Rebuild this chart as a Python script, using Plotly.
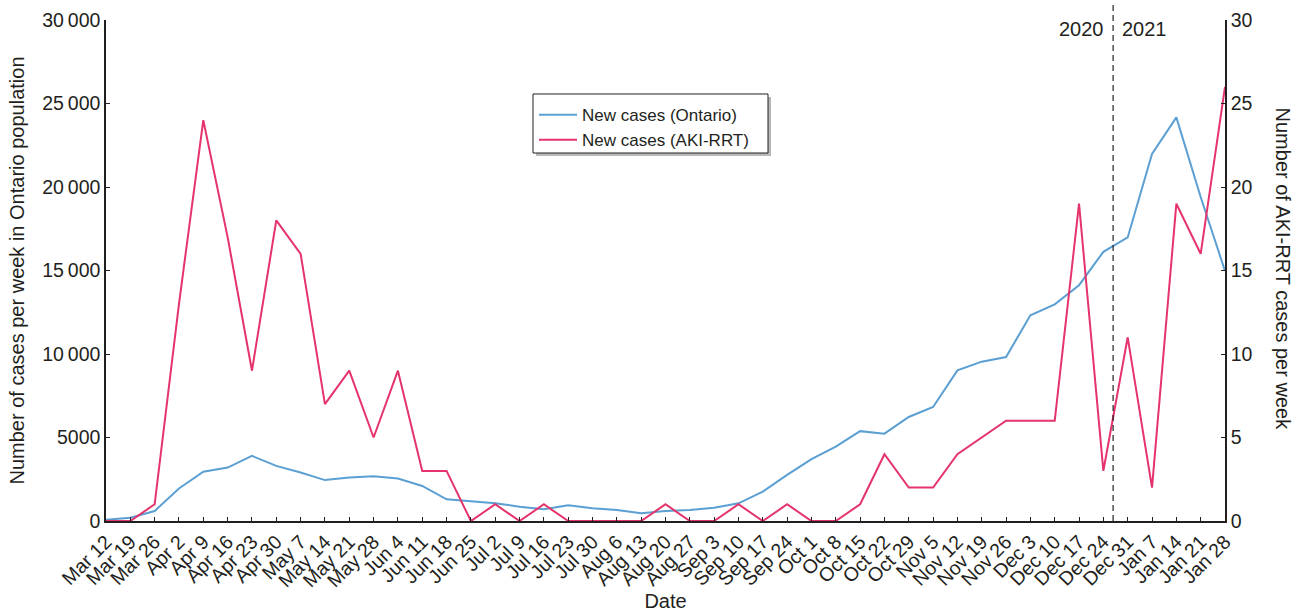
import plotly.graph_objects as go

# Week-starting dates (2020-03-12 .. 2021-01-28)
weeks = [
    "Mar 12", "Mar 19", "Mar 26", "Apr 2", "Apr 9", "Apr 16", "Apr 23", "Apr 30",
    "May 7", "May 14", "May 21", "May 28", "Jun 4", "Jun 11", "Jun 18", "Jun 25",
    "Jul 2", "Jul 9", "Jul 16", "Jul 23", "Jul 30", "Aug 6", "Aug 13", "Aug 20",
    "Aug 27", "Sep 3", "Sep 10", "Sep 17", "Sep 24", "Oct 1", "Oct 8", "Oct 15",
    "Oct 22", "Oct 29", "Nov 5", "Nov 12", "Nov 19", "Nov 26", "Dec 3", "Dec 10",
    "Dec 17", "Dec 24", "Dec 31", "Jan 7", "Jan 14", "Jan 21", "Jan 28",
]

# Weekly new COVID-19 cases in the Ontario population
ontario_cases = [
    80, 200, 600, 1950, 2950, 3200, 3900, 3300,
    2900, 2450, 2600, 2680, 2550, 2100, 1300, 1200,
    1060, 860, 700, 940, 760, 660, 460, 600,
    660, 800, 1060, 1760, 2760, 3700, 4460, 5380,
    5230, 6230, 6830, 9020, 9540, 9820, 12320, 12970,
    14120, 16120, 16980, 21980, 24170, 19400, 14980,
]

# Weekly new AKI-RRT cases
aki_rrt_cases = [
    0, 0, 1, 13, 24, 17, 9, 18,
    16, 7, 9, 5, 9, 3, 3, 0,
    1, 0, 1, 0, 0, 0, 0, 1,
    0, 0, 1, 0, 1, 0, 0, 1,
    4, 2, 2, 4, 5, 6, 6, 6,
    19, 3, 11, 2, 19, 16, 26,
]

left_ticks = [0, 5000, 10000, 15000, 20000, 25000, 30000]
left_tick_text = ["0", "5000", "10\u2009000", "15\u2009000", "20\u2009000", "25\u2009000", "30\u2009000"]
right_ticks = [0, 5, 10, 15, 20, 25, 30]

year_boundary = 41.4  # between Dec 24 and Dec 31 weeks
year_labels = ["2020", "2021"]

BLUE = "#5b9fd3"
PINK = "#e5336b"
INK = "#231f20"
FONT = "Liberation Sans, Arial, sans-serif"

x_idx = list(range(len(weeks)))

fig = go.Figure()
fig.add_trace(go.Scatter(
    x=x_idx, y=ontario_cases, mode="lines", name="New cases (Ontario)",
    line=dict(color=BLUE, width=2), yaxis="y",
))
fig.add_trace(go.Scatter(
    x=x_idx, y=aki_rrt_cases, mode="lines", name="New cases (AKI-RRT)",
    line=dict(color=PINK, width=2), yaxis="y2",
))

# Dashed divider between the two years
fig.add_shape(
    type="line", xref="x", yref="paper",
    x0=year_boundary, x1=year_boundary, y0=0, y1=1.034,
    line=dict(color=INK, width=1.2, dash="6px,4px"),
)
fig.add_annotation(
    x=year_boundary, y=0.982, xref="x", yref="paper", text=year_labels[0],
    showarrow=False, xanchor="right", yanchor="middle", xshift=-7,
    font=dict(size=20, color=INK, family=FONT),
)
fig.add_annotation(
    x=year_boundary, y=0.982, xref="x", yref="paper", text=year_labels[1],
    showarrow=False, xanchor="left", yanchor="middle", xshift=7,
    font=dict(size=20, color=INK, family=FONT),
)

# Right-hand axis title, reading top to bottom
fig.add_annotation(
    x=1.0518, y=0.502, xref="paper", yref="paper",
    text="Number of AKI-RRT cases per week", textangle=90,
    showarrow=False, xanchor="center", yanchor="middle",
    font=dict(size=20, color=INK, family=FONT),
)

# Legend frame with a soft drop shadow (legend itself is drawn on top)
box_x0, box_x1, box_y0, box_y1 = 0.3816, 0.5916, 0.7345, 0.8523
fig.add_shape(
    type="rect", xref="paper", yref="paper", layer="above",
    x0=box_x0 + 0.0027, x1=box_x1 + 0.0027, y0=box_y0 - 0.006, y1=box_y1 - 0.006,
    fillcolor="#b8b8b8", line=dict(width=0),
)
fig.add_shape(
    type="rect", xref="paper", yref="paper", layer="above",
    x0=box_x0, x1=box_x1, y0=box_y0, y1=box_y1,
    fillcolor="white", line=dict(color=INK, width=1),
)

axis_common = dict(
    showgrid=False, zeroline=False, showline=True, linecolor=INK, linewidth=1.5,
    ticks="inside", ticklen=4, tickcolor=INK, tickwidth=1.2,
    tickfont=dict(size=19.5, color=INK, family=FONT),
    automargin=False,
)

fig.update_layout(
    width=1301, height=615,
    margin=dict(l=106, r=76, t=20, b=94),
    paper_bgcolor="white", plot_bgcolor="white",
    font=dict(family=FONT, color=INK),
    showlegend=True,
    legend=dict(
        x=0.3825, y=0.846, xanchor="left", yanchor="top",
        bgcolor="rgba(0,0,0,0)", borderwidth=0,
        font=dict(size=17, color=INK, family=FONT),
        tracegroupgap=0, itemwidth=38,
    ),
    xaxis=dict(
        **axis_common,
        range=[0, len(weeks) - 1],
        tickmode="array", tickvals=x_idx, ticktext=weeks, tickangle=-45,
        title=dict(text="Date", font=dict(size=20, color=INK, family=FONT), standoff=4),
    ),
    yaxis=dict(
        **axis_common,
        range=[0, 30000],
        tickmode="array", tickvals=left_ticks, ticktext=left_tick_text,
        title=dict(text="Number of cases per week in Ontario population",
                   font=dict(size=20, color=INK, family=FONT), standoff=12),
    ),
    yaxis2=dict(
        **axis_common,
        overlaying="y", side="right", anchor="x",
        range=[0, 30],
        tickmode="array", tickvals=right_ticks,
    ),
)

fig.write_html("out.html")
